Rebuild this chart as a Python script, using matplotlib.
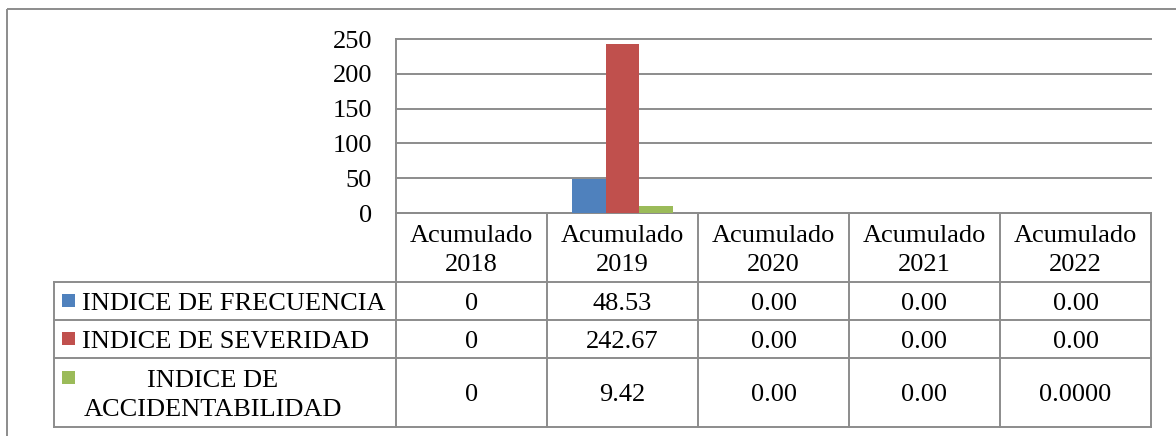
import matplotlib
matplotlib.use("Agg")
import matplotlib.pyplot as plt
from matplotlib.patches import Rectangle

# ---------------- data ----------------
years = ["2018", "2019", "2020", "2021", "2022"]
header_word = "Acumulado"
series_names = ["INDICE DE FRECUENCIA", "INDICE DE SEVERIDAD", "INDICE DE\nACCIDENTABILIDAD"]
frecuencia = [0, 48.53, 0.00, 0.00, 0.00]
severidad = [0, 242.67, 0.00, 0.00, 0.00]
accidentabilidad = [0, 9.42, 0.00, 0.00, 0.0000]
decimales = [[0, 2, 2, 2, 2],
             [0, 2, 2, 2, 2],
             [0, 2, 2, 2, 4]]
yticks = [0, 50, 100, 150, 200, 250]
colors = ["#4F81BD", "#C0504D", "#9BBB59"]

# ---------------- figure ----------------
plt.rcParams['font.family'] = ['Liberation Serif', 'DejaVu Serif']
W, H = 1176, 436
fig = plt.figure(figsize=(W / 100, H / 100), dpi=100)
FS = 19
GRAY = "#8C8C8C"
LW = 1.4

# overlay in pixel coordinates (y downward)
ov = fig.add_axes([0, 0, 1, 1])
ov.set_xlim(0, W)
ov.set_ylim(H, 0)
ov.axis('off')

x0, x1, ytop, ybase = 396, 1151, 39, 213
ax = fig.add_axes([x0 / W, (H - ybase) / H, (x1 - x0) / W, (ybase - ytop) / H])
n = len(years)
ax.set_xlim(-0.5, n - 0.5)
ax.set_ylim(yticks[0], yticks[-1])
ax.patch.set_alpha(0)
w = 1 / 4.5
series = [frecuencia, severidad, accidentabilidad]
for k, (vals, c) in enumerate(zip(series, colors)):
    ax.bar([i + (k - 1) * w for i in range(n)], vals, width=w, color=c,
           linewidth=0, zorder=3)
ax.set_yticks(yticks)
ax.set_xticks([])
ax.tick_params(axis='y', length=0, labelleft=False)
ax.set_axisbelow(True)
ax.yaxis.grid(True, color=GRAY, linewidth=LW)
for gl in ax.get_ygridlines():
    gl.set_clip_on(False)
for s in ['top', 'right', 'bottom']:
    ax.spines[s].set_visible(False)
ax.spines['left'].set_color(GRAY)
ax.spines['left'].set_linewidth(LW)


def to_px(xd, yd):
    dx, dy = ax.transData.transform((xd, yd))
    return dx, H - dy


CAP = 8.7  # half cap-height in px, for baseline placement

# y tick labels
for v in yticks:
    _, py = to_px(-0.5, v)
    ov.text(372, py + CAP, f"{v}", ha='right', va='baseline', fontsize=FS)

# outer frame
ov.plot([7, W], [9, 9], color=GRAY, lw=LW, solid_capstyle='butt')
ov.plot([7, 7], [9, H], color=GRAY, lw=LW, solid_capstyle='butt')

# table geometry
row_y = [213, 282, 320, 358, 427]
label_x0 = 54
col_edges = [to_px(i - 0.5, 0)[0] for i in range(n + 1)]
col_centers = [to_px(i, 0)[0] for i in range(n)]

# horizontal lines
ov.plot([col_edges[0], col_edges[-1]], [row_y[0], row_y[0]], color=GRAY, lw=LW)
for yy in row_y[1:]:
    ov.plot([label_x0, col_edges[-1]], [yy, yy], color=GRAY, lw=LW)
# vertical lines
for xe in col_edges:
    ov.plot([xe, xe], [row_y[0], row_y[-1]], color=GRAY, lw=LW)
ov.plot([label_x0, label_x0], [row_y[1], row_y[-1]], color=GRAY, lw=LW)

# header
for cx, yr in zip(col_centers, years):
    ov.text(cx, 242, header_word, ha='center', va='baseline', fontsize=FS)
    ov.text(cx, 271, yr, ha='center', va='baseline', fontsize=FS)

# rows
LINE = 29
for r, (name, vals, decs, c) in enumerate(zip(series_names, series, decimales, colors)):
    yc = (row_y[r + 1] + row_y[r + 2]) / 2
    lines = name.split("\n")
    if len(lines) == 1:
        ov.add_patch(Rectangle((62, yc - 7), 13, 13, color=c, lw=0))
        ov.text(82, yc + CAP, name, ha='left', va='baseline', fontsize=FS)
    else:
        first = yc - LINE / 2
        ov.add_patch(Rectangle((62, first - 7), 13, 13, color=c, lw=0))
        for j, ln in enumerate(lines):
            ov.text(212.5, first + j * LINE + CAP, ln, ha='center', va='baseline',
                    fontsize=FS)
    for cx, v, d in zip(col_centers, vals, decs):
        ov.text(cx, yc + CAP, f"{v:.{d}f}", ha='center', va='baseline', fontsize=FS)

fig.savefig("out.png", dpi=100)
